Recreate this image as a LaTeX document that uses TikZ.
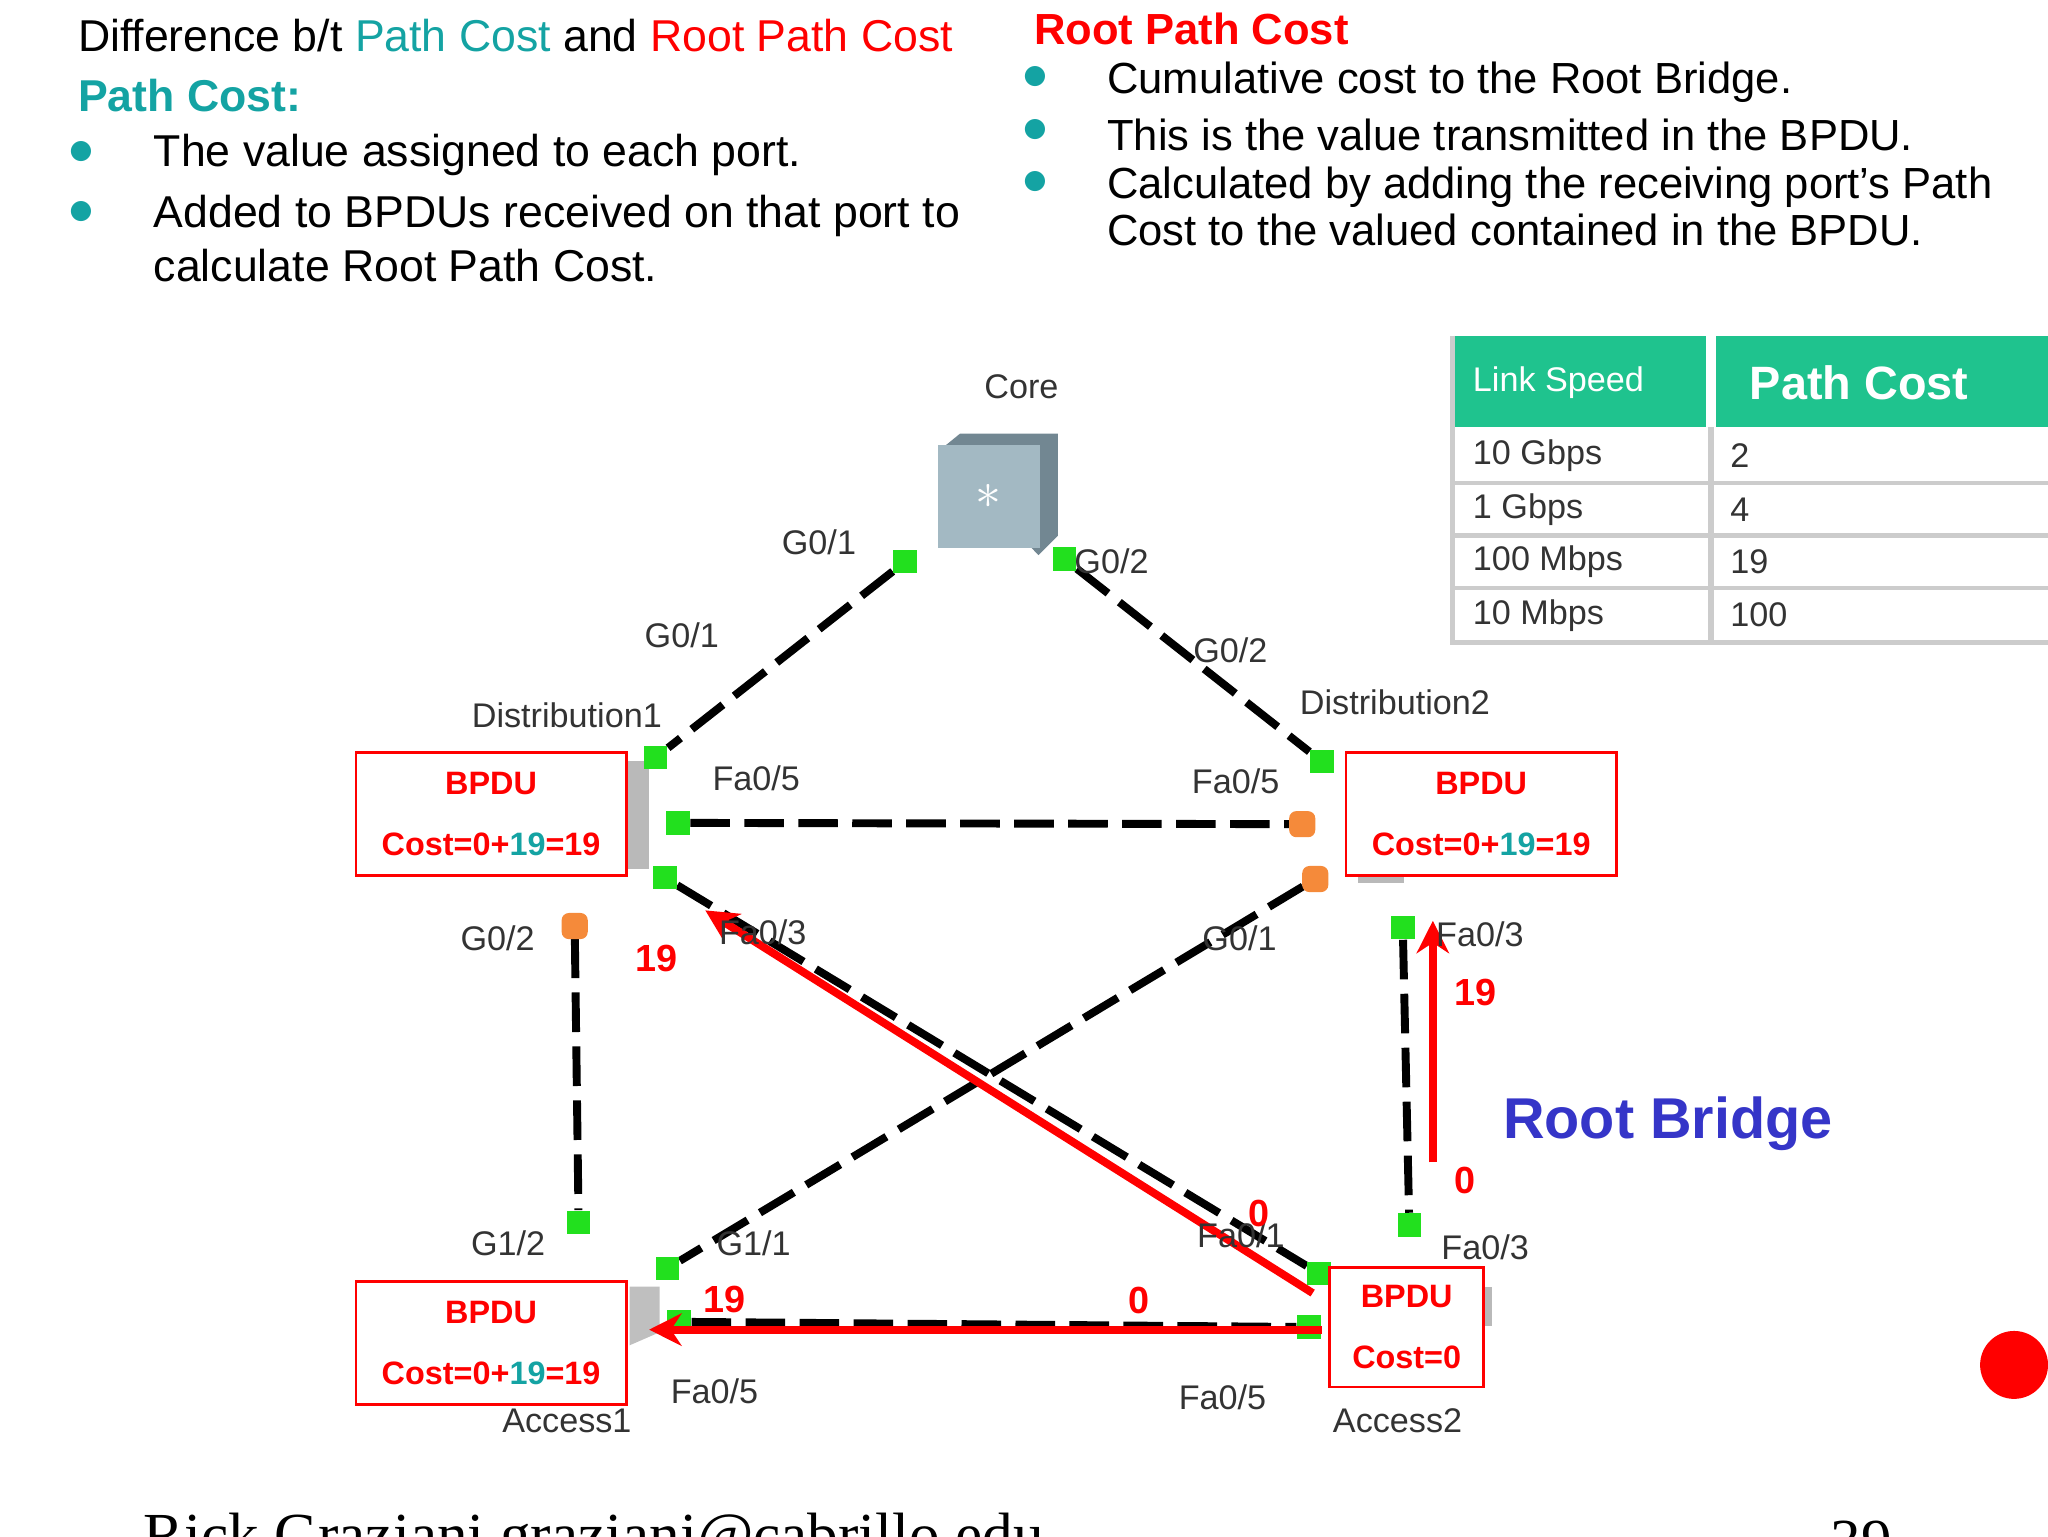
\documentclass[tikz,border=0pt]{standalone}
\usepackage{fontspec}
\setmainfont{Liberation Sans}
\usetikzlibrary{arrows.meta,calc}
\definecolor{teal1}{HTML}{14A3A3}
\definecolor{hdr}{HTML}{1FC38E}
\definecolor{gr}{HTML}{22E01E}
\definecolor{og}{HTML}{F58A3A}
\definecolor{rb}{HTML}{3535C8}
\definecolor{lbl}{HTML}{333333}
\begin{document}
\begin{tikzpicture}[x=0.01276cm,y=-0.01276cm,
  hd/.style={anchor=west,font=\fontsize{12.4}{14}\selectfont},
  hr/.style={anchor=west,font=\fontsize{12.1}{14}\selectfont},
  bl/.style={text=teal1,font=\fontsize{14}{14}\selectfont},
  lk/.style={black,line width=2.2pt,dash pattern=on 11pt off 4pt},
  port/.style={minimum size=6.5pt,inner sep=0pt},
  pl/.style={text=lbl,font=\fontsize{9.5}{10}\selectfont},
  bx/.style={draw=red,line width=0.8pt,fill=white,minimum width=2.64cm,minimum height=1.2cm,align=center,font=\bfseries\fontsize{9}{17}\selectfont,text=red},
  rn/.style={text=red,font=\bfseries\fontsize{10.5}{11}\selectfont},
  ra/.style={red,line width=2.2pt,-{Stealth[length=9pt,width=9pt]}},
  td/.style={anchor=west,text=lbl,font=\fontsize{9.5}{10}\selectfont}]
\useasboundingbox (0,0) rectangle (1568,1176);
\clip (0,0) rectangle (1568,1176);
% header left
\node[hd] (t1) at (50,27) {Difference b/t \textcolor{teal1}{Path Cost} and \textcolor{red}{Root Path Cost}};
\node[hd,text=teal1,font=\bfseries\fontsize{12.4}{14}\selectfont] (t2) at (50,73) {Path Cost:};
\node[bl] (b1) at (62,117) {$\bullet$};
\node[bl] (b2) at (62,163) {$\bullet$};
\node[hd] (t3) at (108,119) {The value assigned to each port.};
\node[hd] (t4) at (108,165) {Added to BPDUs received on that port to};
\node[hd] (t5) at (108,203) {calculate Root Path Cost.};
% header right
\node[hr,text=red,font=\bfseries\fontsize{12.1}{14}\selectfont] (r0) at (782,22) {Root Path Cost};
\node[bl] (b3) at (793,60) {$\bullet$};
\node[bl] (b4) at (793,100) {$\bullet$};
\node[bl] (b5) at (793,140) {$\bullet$};
\node[hr] (r1) at (838,63) {Cumulative cost to the Root Bridge.};
\node[hr] (r2) at (838,103) {This is the value transmitted in the BPDU.};
\node[hr] (r3) at (838,143) {Calculated by adding the receiving port’s Path};
\node[hr] (r4) at (838,176) {Cost to the valued contained in the BPDU.};
% table
\fill[hdr] (1112,257) rectangle (1568,327);
\draw[white,line width=3pt] (1310,257) -- (1310,327);
\draw[gray!40,line width=1.5pt] (1112,257) -- (1112,492) -- (1568,492);
\draw[gray!40,line width=1.5pt] (1310,327) -- (1310,492);
\foreach \yy in {370,410,450} \draw[gray!40,line width=1.2pt] (1112,\yy) -- (1568,\yy);
\node[td,text=white] (h1) at (1118,293) {Link Speed};
\node[td,text=white,font=\bfseries\fontsize{13}{14}\selectfont] (h2) at (1330,293) {Path Cost};
\node[td] (c1) at (1118,349) {10 Gbps}; \node[td] (d1) at (1315,349) {2};
\node[td] (c2) at (1118,390) {1 Gbps}; \node[td] (d2) at (1315,390) {4};
\node[td] (c3) at (1118,430) {100 Mbps}; \node[td] (d3) at (1315,430) {19};
\node[td] (c4) at (1118,471) {10 Mbps}; \node[td] (d4) at (1315,471) {100};
% core switch
\fill[cyan!30!gray!80!black] (719,345) -- (735,332) -- (810,332) -- (810,410) -- (795,425) -- cycle;
\node[fill=cyan!25!gray!70,minimum width=1cm,minimum height=1cm,inner sep=0pt] (core) at (757,380) {\textcolor{white}{\Large$\ast$}};
\node[pl] (corel) at (782,296) {Core};
% ports
\node[port] (cg1) at (693,430) {};
\node[port] (cg2) at (815,428) {};
\node[port] (d1g) at (502,580) {};
\node[port] (d2g) at (1012,583) {};
\node[port] (d1f5) at (519,630) {};
\node[port] (d2f5) at (997,631) {};
\node[port] (d1f3) at (509,672) {};
\node[port] (d2g1) at (1007,673) {};
\node[port] (d1g2) at (440,709) {};
\node[port] (d2f3) at (1074,710) {};
\node[port] (a1g2) at (443,936) {};
\node[port] (a1g1) at (511,971) {};
\node[port] (a2f1) at (1010,975) {};
\node[port] (a2f3) at (1079,938) {};
\node[port] (a1f5) at (520,1012) {};
\node[port] (a2f5) at (1002,1016) {};
% device stubs
\fill[gray!55] (480,583) rectangle (497,665);
\fill[gray!55] (1040,670) rectangle (1075,676);
\fill[gray!50] (482,985) -- (505,985) -- (505,1020) -- (482,1030) -- cycle;
\fill[gray!55] (1136,985) rectangle (1142,1015);
% links
\draw[lk] (cg1) -- (d1g);
\draw[lk] (cg2) -- (d2g);
\draw[lk] (d1f5) -- (d2f5);
\draw[lk] (d1f3) -- (a2f1);
\draw[lk] (d2g1) -- (a1g1);
\draw[lk] (d1g2) -- (a1g2);
\draw[lk] (d2f3) -- (a2f3);
\draw[lk] (a1f5) -- (a2f5);
% port dots on top
\foreach \n in {cg1,cg2,d1g,d2g,d1f5,d1f3,d2f3,a1g2,a1g1,a2f1,a2f3,a1f5,a2f5}
  \fill[gr] ($(\n)+(-9,-9)$) rectangle ($(\n)+(9,9)$);
\foreach \n in {d2f5,d2g1,d1g2}
  \fill[og,rounded corners=2pt] ($(\n)+(-10,-10)$) rectangle ($(\n)+(10,10)$);
% boxes
\node[bx] (bx1) at (376,623) {BPDU\\Cost=0+\textcolor{teal1}{19}=19};
\node[bx] (bx2) at (1134,623) {BPDU\\Cost=0+\textcolor{teal1}{19}=19};
\node[bx] (bx3) at (376,1028) {BPDU\\Cost=0+\textcolor{teal1}{19}=19};
\node[bx,minimum width=1.5cm,minimum height=1.17cm] (bx4) at (1077,1016) {BPDU\\Cost=0};
% red arrows
\coordinate (p1) at (1005,990); \coordinate (p2) at (540,697);
\coordinate (p3) at (1012,1018); \coordinate (p4) at (497,1018);
\coordinate (p5) at (1097,890); \coordinate (p6) at (1097,705);
\draw[ra] (p1) -- (p2);
\draw[ra] (p3) -- (p4);
\draw[ra] (p5) -- (p6);
% labels
\node[pl] (l1) at (627,415) {G0/1};
\node[pl] (l2) at (851,430) {G0/2};
\node[pl] (l3) at (522,486) {G0/1};
\node[pl] (l4) at (942,498) {G0/2};
\node[pl] (l5) at (434,548) {Distribution1};
\node[pl] (l6) at (1068,538) {Distribution2};
\node[pl] (l7) at (579,596) {Fa0/5};
\node[pl] (l8) at (946,598) {Fa0/5};
\node[pl] (l9) at (381,718) {G0/2};
\node[pl] (l10) at (584,714) {Fa0/3};
\node[pl] (l11) at (949,718) {G0/1};
\node[pl] (l12) at (1133,715) {Fa0/3};
\node[pl] (l13) at (389,952) {G1/2};
\node[pl] (l14) at (577,952) {G1/1};
\node[pl] (l15) at (950,946) {Fa0/1};
\node[pl] (l16) at (1137,955) {Fa0/3};
\node[pl] (l17) at (547,1065) {Fa0/5};
\node[pl] (l18) at (936,1070) {Fa0/5};
\node[pl] (l19) at (434,1088) {Access1};
\node[pl] (l20) at (1070,1088) {Access2};
\node[rn] (n1) at (503,734) {19};
\node[rn] (n2) at (1130,760) {19};
\node[rn] (n3) at (1122,904) {0};
\node[rn] (n4) at (964,929) {0};
\node[rn] (n5) at (555,995) {19};
\node[rn] (n6) at (872,996) {0};
\node[text=rb,font=\bfseries\fontsize{16}{18}\selectfont] (rbt) at (1277,860) {Root Bridge};
\fill[red] (1542,1045) circle (26);
\node[anchor=west,font=\fontspec{Liberation Serif}\fontsize{17}{18}\selectfont] (ft) at (100,1180) {Rick Graziani  graziani@cabrillo.edu};
\node[font=\fontspec{Liberation Serif}\fontsize{17}{18}\selectfont] (pg) at (1425,1180) {39};
\end{tikzpicture}
\end{document}
